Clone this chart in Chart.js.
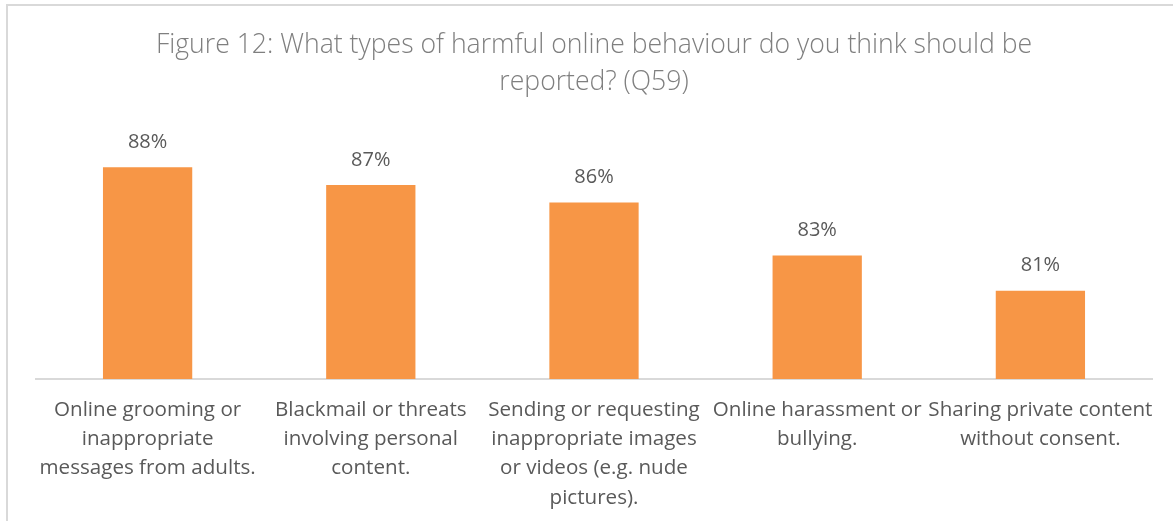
<!DOCTYPE html>
<html>
<head>
<meta charset="utf-8">
<script src="https://cdn.jsdelivr.net/npm/chart.js@4.4.1/dist/chart.umd.min.js"></script>
<style>
  html, body { margin: 0; padding: 0; background: #ffffff; }
  #wrap { position: relative; width: 1173px; height: 521px; }
  canvas { display: block; }
</style>
</head>
<body>
<div id="wrap"><canvas id="chart" width="1173" height="521"></canvas></div>
<script>
// Survey question and answer categories
const titleLines = [
  'Figure 12: What types of harmful online behaviour do you think should be',
  'reported? (Q59)'
];
const categories = [
  ['Online grooming or', 'inappropriate', 'messages from adults.'],
  ['Blackmail or threats', 'involving personal', 'content.'],
  ['Sending or requesting', 'inappropriate images', 'or videos (e.g. nude', 'pictures).'],
  ['Online harassment or', 'bullying.'],
  ['Sharing private content', 'without consent.']
];
// Share of respondents (%)
const percentages = [88, 87, 86, 83, 81];

const FONT = "'Open Sans', 'Noto Sans', sans-serif";

// Frame lines along the top and left edge, plus the two-line title
const framePlugin = {
  id: 'frame',
  beforeDraw(chart) {
    const ctx = chart.ctx;
    ctx.save();
    ctx.fillStyle = '#ffffff';
    ctx.fillRect(0, 0, chart.width, chart.height);
    ctx.fillStyle = '#d9d9d9';
    ctx.fillRect(6, 4, chart.width - 6, 2);
    ctx.fillRect(6, 4, 2, chart.height - 4);
    ctx.restore();
  },
  afterDraw(chart) {
    const ctx = chart.ctx;
    ctx.save();
    ctx.fillStyle = '#7f7f7f';
    ctx.font = `300 26.6px ${FONT}`;
    ctx.textAlign = 'center';
    ctx.textBaseline = 'middle';
    const cx = 594;
    titleLines.forEach((t, i) => ctx.fillText(t, cx, 45 + i * 37));
    ctx.restore();
  }
};

// Percentage labels above each bar
const valueLabels = {
  id: 'valueLabels',
  afterDatasetsDraw(chart) {
    const ctx = chart.ctx;
    const meta = chart.getDatasetMeta(0);
    ctx.save();
    ctx.fillStyle = '#595959';
    ctx.font = `20px ${FONT}`;
    ctx.textAlign = 'center';
    ctx.textBaseline = 'middle';
    meta.data.forEach((bar, i) => {
      ctx.fillText(percentages[i] + '%', bar.x, bar.y - 25);
    });
    ctx.restore();
  }
};

new Chart(document.getElementById('chart'), {
  type: 'bar',
  data: {
    labels: categories,
    datasets: [{
      data: percentages,
      backgroundColor: '#f79646',
      borderWidth: 0,
      barPercentage: 0.4,
      categoryPercentage: 1.0
    }]
  },
  options: {
    responsive: false,
    animation: false,
    devicePixelRatio: 1,
    layout: { padding: { left: 36, right: 21, top: 132, bottom: 0 } },
    plugins: {
      legend: { display: false },
      title: { display: false },
      tooltip: { enabled: false }
    },
    scales: {
      x: {
        grid: { display: false, drawTicks: false },
        border: { display: true, color: '#d9d9d9', width: 2 },
        ticks: {
          color: '#595959',
          font: { family: FONT, size: 20.6, lineHeight: 1.41 },
          padding: 17,
          maxRotation: 0,
          autoSkip: false
        },
        afterFit(scale) { scale.height = 142; }
      },
      y: {
        display: false,
        min: 76,
        max: 90
      }
    }
  },
  plugins: [framePlugin, valueLabels]
});
</script>
</body>
</html>
